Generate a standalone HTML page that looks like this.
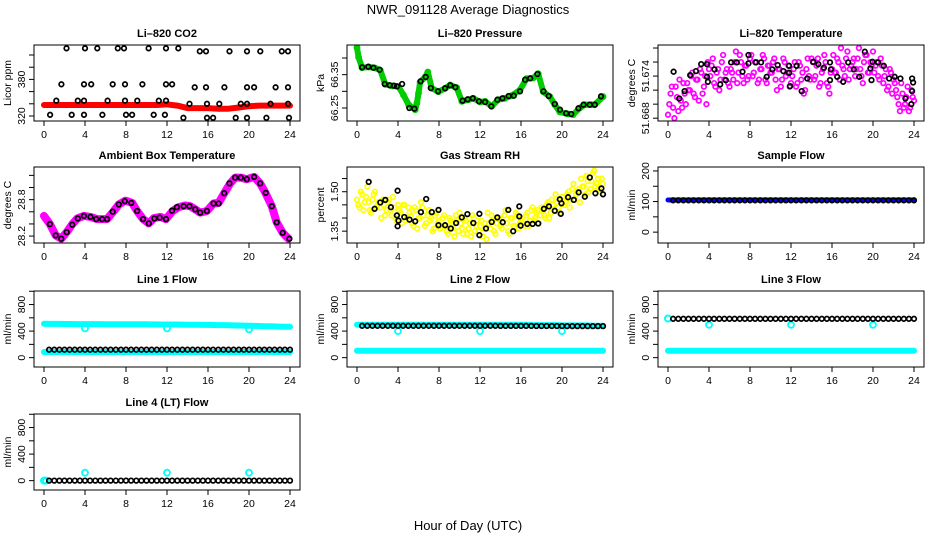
<!DOCTYPE html>
<html><head><meta charset="utf-8"><title>NWR_091128 Average Diagnostics</title>
<style>
html,body{margin:0;padding:0;background:#fff;}
svg{display:block;font-family:"Liberation Sans",Arial,sans-serif;}
</style></head>
<body>
<svg id="chart" width="936" height="540" viewBox="0 0 936 540" xmlns="http://www.w3.org/2000/svg">
<rect x="0" y="0" width="936" height="540" fill="#fff"/>
<text x="468" y="14" font-size="13" text-anchor="middle">NWR_091128  Average Diagnostics</text>
<text x="468" y="530" font-size="13" text-anchor="middle">Hour of Day (UTC)</text>
</svg>
<script>
// ---------- data ----------
const xTicks = [0,4,8,12,16,20,24];
const halfHours = [0,0.5,1,1.5,2,2.5,3,3.5,4,4.5,5,5.5,6,6.5,7,7.5,8,8.5,9,9.5,10,10.5,11,11.5,12,12.5,13,13.5,14,14.5,15,15.5,16,16.5,17,17.5,18,18.5,19,19.5,20,20.5,21,21.5,22,22.5,23,23.5,24];
const blackHours = halfHours.slice(1);
const quarterHours = Array.from({length:97},(_,i)=>i*0.25);
const eighthHours = Array.from({length:96},(_,i)=>0.125+i*0.25);

// CO2
const co2RedHours = [0,1,2,3,4,5,6,7,8,9,10,11,12,13,14,15,16,17,18,19,20,21,22,23,24];
const co2RedVals = [338,338,338,338,338,338,338,338,338,338,338,338,339,337,333,333,333,332,332,334,336,337,337,337,337];
const co2BlackHours = [2.2,4.0,5.2,7.2,7.8,10.2,11.9,13.1,15.2,15.8,18.1,19.8,21.1,23.2,23.8,
 1.7,3.9,4.6,6.7,7.9,9.6,11.9,12.5,14.7,15.8,17.6,19.8,20.5,22.6,23.8,
 1.2,3.3,3.9,6.2,7.9,9.1,11.2,11.9,14.2,15.9,17.1,19.2,19.8,22.1,23.8,
 0.6,2.7,3.9,5.7,8.0,8.6,10.7,11.8,13.6,15.9,16.5,18.7,19.8,21.7,23.9];
const co2BlackVals = [431,431,431,431,431,431,431,431,426,426,426,426,426,426,426,
 372,372,372,372,372,372,372,372,367,367,367,367,367,367,367,
 345,345,345,345,345,345,345,345,340,340,340,340,340,340,340,
 322,322,322,322,322,322,322,322,317,317,317,317,317,317,317];

// Pressure
const presGreenHours = [0,0.16,0.49,1.14,1.78,2.27,2.76,3.41,4.05,4.54,5.03,5.68,5.84,6.0,6.16,6.65,6.91,7.3,7.95,8.6,9.08,9.73,10.22,10.87,11.35,12.0,12.49,13.14,13.78,14.43,15.08,15.89,16.54,17.19,17.68,18.17,18.82,19.3,19.79,20.6,21.08,21.73,22.22,22.87,23.19,24.0];
const presGreenVals = [66.431,66.402,66.371,66.373,66.370,66.363,66.321,66.316,66.314,66.289,66.260,66.245,66.265,66.294,66.328,66.343,66.358,66.309,66.299,66.309,66.319,66.311,66.270,66.275,66.279,66.268,66.270,66.255,66.275,66.279,66.287,66.304,66.338,66.340,66.353,66.299,66.284,66.260,66.238,66.232,66.230,66.250,66.260,66.260,66.260,66.284];
const presBlackHours = [0.5,1.1,1.6,2.2,2.7,3.2,3.6,3.9,4.4,5.1,5.6,6.2,6.7,7.2,7.9,8.6,9.1,9.6,10.3,10.8,11.3,11.9,12.5,13.1,13.7,14.2,14.8,15.3,15.9,16.4,16.9,17.6,18.2,18.7,19.3,19.8,20.4,20.9,21.6,22.1,22.7,23.2,23.8];
const presBlackVals = [66.372,66.374,66.371,66.365,66.322,66.318,66.317,66.315,66.322,66.250,66.248,66.330,66.343,66.310,66.300,66.309,66.318,66.312,66.272,66.276,66.279,66.270,66.268,66.255,66.275,66.279,66.286,66.287,66.300,66.335,66.339,66.352,66.300,66.286,66.262,66.245,66.234,66.232,66.249,66.260,66.260,66.260,66.285];

// Li-820 temperature
const ltPinkA = [51.6685,51.6715,51.6695,51.6725,51.6690,51.6705,51.6730,51.6700,51.6720,
 51.6740,51.6715,51.6735,51.6705,51.6745,51.6725,51.6700,51.6750,
 51.6755,51.6730,51.6745,51.6720,51.6760,51.6735,51.6750,51.6725,
 51.6745,51.6760,51.6730,51.6770,51.6740,51.6755,51.6735,51.6765,
 51.6740,51.6760,51.6730,51.6750,51.6770,51.6735,51.6755,51.6745,
 51.6760,51.6735,51.6750,51.6725,51.6765,51.6740,51.6755,51.6730,
 51.6750,51.6725,51.6760,51.6735,51.6715,51.6750,51.6740,51.6765,
 51.6735,51.6755,51.6725,51.6745,51.6770,51.6730,51.6715,51.6750,
 51.6745,51.6765,51.6735,51.6755,51.6740,51.6775,51.6750,51.6760,
 51.6740,51.6765,51.6750,51.6730,51.6770,51.6745,51.6760,51.6775,
 51.6755,51.6740,51.6765,51.6730,51.6750,51.6725,51.6745,51.6735,
 51.6720,51.6700,51.6730,51.6695,51.6710,51.6690,51.6720,51.6705];
const ltPinkB = [51.6700,51.6725,51.6680,51.6710,51.6735,51.6695,51.6715,51.6730,
 51.6720,51.6745,51.6710,51.6735,51.6750,51.6715,51.6740,51.6760,
 51.6740,51.6765,51.6725,51.6750,51.6735,51.6770,51.6745,51.6730,
 51.6750,51.6735,51.6775,51.6745,51.6760,51.6730,51.6755,51.6740,
 51.6770,51.6745,51.6760,51.6735,51.6750,51.6765,51.6730,51.6755,
 51.6745,51.6765,51.6720,51.6750,51.6735,51.6760,51.6745,51.6725,
 51.6740,51.6760,51.6730,51.6755,51.6745,51.6720,51.6765,51.6735,
 51.6760,51.6740,51.6765,51.6730,51.6750,51.6760,51.6725,51.6745,
 51.6770,51.6745,51.6760,51.6780,51.6750,51.6765,51.6735,51.6755,
 51.6765,51.6750,51.6780,51.6740,51.6760,51.6770,51.6745,51.6755,
 51.6745,51.6760,51.6735,51.6755,51.6740,51.6720,51.6750,51.6715,
 51.6730,51.6710,51.6690,51.6715,51.6700,51.6725,51.6695,51.6710];
const ltBlackHours = [0.55,1.10,1.62,2.17,2.72,3.24,3.80,3.80,3.89,4.54,5.09,5.64,6.16,6.71,7.27,7.85,7.85,8.56,9.08,9.63,10.18,10.70,11.26,11.81,11.81,11.90,12.55,13.04,13.59,14.17,14.66,15.21,15.80,15.80,15.89,16.51,17.09,17.58,18.13,18.65,19.20,19.75,19.85,19.95,20.50,21.05,21.57,22.12,22.67,23.16,23.74,23.81,23.81,23.91];
const ltBlackVals = [51.67462,51.67081,51.67186,51.67414,51.67471,51.67571,51.67571,51.67390,51.67319,51.67495,51.67281,51.67343,51.67595,51.67595,51.67462,51.67700,51.67581,51.67595,51.67595,51.67390,51.67495,51.67557,51.67471,51.67547,51.67447,51.67257,51.67547,51.67186,51.67366,51.67604,51.67571,51.67519,51.67595,51.67343,51.67495,51.67390,51.67319,51.67595,51.67495,51.67390,51.67747,51.67509,51.67343,51.67604,51.67595,51.67547,51.67366,51.67390,51.67366,51.67081,51.67000,51.67186,51.67366,51.67309];

// Ambient box temperature
const ambHours = [0,0.58,1.14,1.69,2.21,2.76,3.24,3.89,4.54,5.19,6.16,6.81,7.3,7.95,8.6,9.08,9.67,10.22,10.7,11.35,11.9,12.55,13.14,13.78,14.27,14.76,15.24,15.89,16.54,17.03,17.58,18.17,18.65,19.2,19.79,20.5,21.08,21.57,22.22,22.7,23.29,23.84];
const ambVals = [28.532,28.398,28.211,28.157,28.264,28.398,28.489,28.532,28.516,28.479,28.479,28.613,28.720,28.784,28.746,28.613,28.479,28.409,28.495,28.516,28.479,28.613,28.677,28.704,28.693,28.639,28.586,28.613,28.736,28.746,28.907,29.068,29.164,29.164,29.137,29.175,29.068,28.923,28.693,28.425,28.254,28.157];
const ambBlackHours = [0.58,1.14,1.69,2.21,2.76,3.3,3.89,4.54,5.09,5.67,6.16,6.7,7.3,7.88,8.52,9.08,9.67,10.22,10.77,11.29,11.9,12.49,12.97,13.62,14.2,14.76,15.24,15.89,16.54,17.03,17.58,18.1,18.65,19.2,19.79,20.5,21.08,21.63,22.22,22.7,23.29,23.94];
const ambBlackVals = [28.398,28.211,28.157,28.264,28.387,28.489,28.532,28.516,28.479,28.479,28.479,28.602,28.720,28.774,28.746,28.613,28.479,28.409,28.489,28.505,28.479,28.618,28.677,28.693,28.693,28.639,28.586,28.613,28.736,28.736,28.907,29.068,29.164,29.164,29.137,29.175,29.068,28.912,28.693,28.425,28.254,28.157];

// Gas stream RH
const rhYellowA = [1.47,1.44,1.49,1.46,1.52,1.43,1.47,1.50,1.45,
 1.44,1.47,1.41,1.46,1.43,1.48,1.40,1.45,
 1.42,1.45,1.39,1.44,1.41,1.37,1.43,1.40,
 1.46,1.41,1.38,1.43,1.40,1.36,1.42,1.39,
 1.37,1.41,1.35,1.40,1.38,1.33,1.39,1.42,
 1.36,1.40,1.34,1.38,1.41,1.35,1.39,1.37,
 1.33,1.38,1.42,1.36,1.39,1.34,1.40,1.37,
 1.38,1.43,1.35,1.40,1.37,1.42,1.36,1.39,
 1.38,1.41,1.37,1.43,1.39,1.42,1.38,1.44,
 1.41,1.45,1.40,1.47,1.43,1.46,1.42,1.48,
 1.45,1.49,1.44,1.51,1.47,1.50,1.46,1.52,
 1.49,1.54,1.51,1.57,1.52,1.55,1.50,1.53];
const rhYellowB = [1.45,1.50,1.43,1.48,1.46,1.42,1.49,1.44,
 1.46,1.40,1.45,1.43,1.47,1.41,1.44,1.39,
 1.43,1.38,1.45,1.40,1.42,1.38,1.44,1.36,
 1.40,1.44,1.37,1.41,1.39,1.35,1.41,1.38,
 1.36,1.40,1.37,1.34,1.39,1.36,1.41,1.35,
 1.38,1.34,1.39,1.36,1.33,1.40,1.37,1.35,
 1.39,1.36,1.32,1.38,1.41,1.35,1.38,1.40,
 1.36,1.41,1.38,1.34,1.40,1.37,1.41,1.38,
 1.40,1.37,1.42,1.39,1.44,1.40,1.43,1.41,
 1.43,1.40,1.46,1.42,1.45,1.49,1.44,1.47,
 1.48,1.46,1.50,1.47,1.53,1.49,1.51,1.55,
 1.52,1.56,1.50,1.54,1.58,1.53,1.51,1.55];
const rhBlackHours = [1.14,1.72,2.27,2.76,3.31,3.89,3.96,4.05,3.96,4.61,5.12,5.68,6.23,6.75,7.30,7.95,7.95,8.60,9.15,9.67,10.22,10.77,11.35,11.94,11.94,12.59,13.14,13.69,14.21,14.76,15.24,15.83,15.83,15.96,16.61,17.13,17.68,18.23,18.72,19.30,19.79,19.88,19.95,20.60,21.15,21.63,22.22,22.71,23.26,23.84,24.00];
const rhBlackVals = [1.5375,1.435,1.459,1.469,1.441,1.41,1.369,1.39,1.504,1.404,1.394,1.3875,1.4225,1.4725,1.4225,1.431,1.3725,1.3725,1.36,1.381,1.4025,1.415,1.381,1.416,1.335,1.36,1.385,1.4025,1.384,1.431,1.35,1.444,1.406,1.371,1.3775,1.3775,1.379,1.435,1.444,1.4275,1.471,1.416,1.456,1.479,1.469,1.4975,1.481,1.554,1.494,1.5125,1.49];

// Sample flow
const sfBlue = [105,105,105,105,105,105,105,105,105,105,105,105,105,105,105,105,105,105,105,105,105,105,105,105,105,105,105,105,105,105,105,105,105,105,105,105,105,105,105,105,105,105,105,105,105,105,105,105,105];
const sfBlack = [104,104,104,104,104,104,104,104,104,104,104,104,104,104,104,104,104,104,104,104,104,104,104,104,104,104,104,104,104,104,104,104,104,104,104,104,104,104,104,104,104,104,104,104,104,104,104,104];

// Line flows
const dipHours = [4,12,20];
const l1CyanTop = [510,509,508,508,507,507,506,506,506,505,505,505,504,504,504,503,503,503,502,502,502,501,501,500,500,500,499,498,497,496,495,494,493,492,491,490,488,486,484,482,480,478,476,474,472,470,468,466,464];
const l1CyanBot = [85,85,85,85,85,85,85,85,85,85,85,85,85,85,85,85,85,85,85,85,85,85,85,85,85,85,85,85,85,85,85,85,85,85,85,85,85,85,85,85,85,85,85,85,85,85,85,85,85];
const l1Black = [120,120,120,120,120,120,120,120,120,120,120,120,120,120,120,120,120,120,120,120,120,120,120,120,120,120,120,120,120,120,120,120,120,120,120,120,120,120,120,120,120,120,120,120,120,120,120,120];
const l1Dips = [440,440,425];

const l2CyanTop = [495,495,495,495,495,495,495,495,495,495,495,495,495,495,495,495,495,495,495,495,495,495,495,495,495,495,495,495,495,495,495,495,495,495,490,490,490,490,490,490,485,485,485,485,485,485,480,480,480];
const l2CyanBot = [105,105,105,105,105,105,105,105,105,105,105,105,105,105,105,105,105,105,105,105,105,105,105,105,105,105,105,105,105,105,105,105,105,105,105,105,105,105,105,105,105,105,105,105,105,105,105,105,105];
const l2Black = [480,480,480,480,480,480,480,480,480,480,480,480,480,480,480,480,480,480,480,480,480,480,480,480,480,480,480,478,478,478,478,478,478,478,476,476,476,476,476,476,475,475,475,475,475,475,475,475];
const l2Dips = [400,400,400];

const l3CyanTop = [590];
const l3CyanBot = [105,105,105,105,105,105,105,105,105,105,105,105,105,105,105,105,105,105,105,105,105,105,105,105,105,105,105,105,105,105,105,105,105,105,105,105,105,105,105,105,105,105,105,105,105,105,105,105,105];
const l3Black = [585,585,585,585,585,585,585,585,585,585,585,585,585,585,585,585,585,585,585,585,585,585,585,585,585,585,585,585,585,585,585,585,585,585,585,585,585,585,585,585,585,585,585,585,585,585,585,585];
const l3Dips = [495,495,495];

const l4CyanBot = [0,0];
const l4Black = [0,0,0,0,0,0,0,0,0,0,0,0,0,0,0,0,0,0,0,0,0,0,0,0,0,0,0,0,0,0,0,0,0,0,0,0,0,0,0,0,0,0,0,0,0,0,0,0];
const l4Dips = [120,120,120];

// ---------- layout ----------
const SVGNS = "http://www.w3.org/2000/svg";
const svg = document.getElementById('chart');
const colL = [34,347,658], rowT = [45,167,291,414], PW = 266, PH = 76;

function el(tag, attrs, parent){
  const e = document.createElementNS(SVGNS, tag);
  for (const k in attrs) e.setAttribute(k, attrs[k]);
  (parent||svg).appendChild(e);
  return e;
}
function xPos(p,h){ return colL[p.col] + 10 + h*(246/24); }
function yPos(p,v){ return rowT[p.row] + PH*(p.yhi - v)/(p.yhi - p.ylo); }

function panel(p){
  const g = el('g', {});
  
  
  const L = colL[p.col], T = rowT[p.row];
  const cp = el('clipPath', {id: 'clip-' + p.name}, g);
  el('rect', {x:L, y:T, width:PW, height:PH}, cp);
  const t = el('text', {x: L + PW/2, y: T - 8, 'font-size': 11, 'font-weight': 'bold', 'text-anchor': 'middle'}, g);
  t.textContent = p.title;
  
  
  xTicks.forEach(h => {
    const x = xPos(p,h);
    const tk = el('line', {x1:x, x2:x, y1:T+PH, y2:T+PH+5, stroke:'#000', 'stroke-width':1}, g);
    
    
    const lb = el('text', {x:x, y:T+PH+17, 'font-size': 10.5, 'text-anchor':'middle'}, g);
    lb.textContent = h;
    
    
  });
  p.ticks.forEach(v => {
    const y = yPos(p,v);
    const tk = el('line', {x1:L-5, x2:L, y1:y, y2:y, stroke:'#000', 'stroke-width':1}, g);
    
    
  });
  p.labels.forEach(v => {
    const y = yPos(p,v);
    const lb = el('text', {x:0, y:0, 'font-size': 10.5, 'text-anchor':'middle', transform:'translate(' + (L-9) + ',' + y + ') rotate(-90)'}, g);
    lb.textContent = v;
    
    
  });
  const at = el('text', {x:0, y:0, 'font-size': 10.5, 'text-anchor':'middle', transform:'translate(' + (L-23) + ',' + (T+PH/2) + ') rotate(-90)'}, g);
  at.textContent = p.ylab;
  
  
  const plot = el('g', {'clip-path': 'url(#clip-' + p.name + ')'}, g);
  
  
  p.g = plot; p.outer = g;
  return p;
}
function box(p){
  const b = el('rect', {x:colL[p.col], y:rowT[p.row], width:PW, height:PH, fill:'none', stroke:'#000', 'stroke-width':1}, p.outer);
  
  
}
function band(p, xs, ys, color, w, name){
  const d = xs.map((h,i) => (i?'L':'M') + xPos(p,h).toFixed(1) + ',' + yPos(p,ys[i]).toFixed(1)).join('');
  const path = el('path', {d:d, fill:'none', stroke:color, 'stroke-width':w, 'stroke-linejoin':'round', 'stroke-linecap':'round'}, p.g);
  
  
}
function points(p, xs, ys, color, name, r, sw){
  const g = el('g', {fill:'none', stroke:color, 'stroke-width': sw||1.7}, p.g);
  
  
  ys.forEach((v,i) => {
    const c = el('circle', {cx:xPos(p,xs[i]).toFixed(1), cy:yPos(p,v).toFixed(1), r:r||2.3}, g);
    
    
  });
}

// ---------- panels ----------
const flowTicks = [0,200,400,600,800,1000], flowLabels = [0,400,800];
const pCO2 = panel({name:'co2', col:0,row:0,title:'Li\u2013820 CO2', ylab:'Licor ppm', ylo:311.8, yhi:436.4, ticks:[320,340,360,380,400,420], labels:[320,380]});
band(pCO2, co2RedHours, co2RedVals, '#ff0000', 6, 'co2-red-series');
points(pCO2, co2BlackHours, co2BlackVals, '#000', 'co2-black-series');
box(pCO2);

const pPres = panel({name:'pressure', col:1,row:0,title:'Li\u2013820 Pressure', ylab:'kPa', ylo:66.211, yhi:66.439, ticks:[66.25,66.30,66.35,66.40], labels:['66.25','66.35']});
band(pPres, presGreenHours, presGreenVals, '#00cc00', 6, 'pressure-green-band');
points(pPres, presGreenHours, presGreenVals, '#00cc00', 'pressure-green-series', 2.6, 1.6);
points(pPres, presBlackHours, presBlackVals, '#000', 'pressure-black-series');
box(pPres);

const pLT = panel({name:'li820-temp', col:2,row:0,title:'Li\u2013820 Temperature', ylab:'degrees C', ylo:51.6676, yhi:51.67843, ticks:[51.668,51.670,51.672,51.674,51.676,51.678], labels:['51.668','51.674']});
points(pLT, quarterHours, ltPinkA, '#ff00ff', 'li820-temp-magenta-series-a');
points(pLT, eighthHours, ltPinkB, '#ff00ff', 'li820-temp-magenta-series-b');
points(pLT, ltBlackHours, ltBlackVals, '#000', 'li820-temp-black-series');
box(pLT);

const pAmb = panel({name:'ambient-temp', col:0,row:1,title:'Ambient Box Temperature', ylab:'degrees C', ylo:28.086, yhi:29.338, ticks:[28.2,28.4,28.6,28.8,29.0,29.2], labels:['28.2','28.8']});
band(pAmb, ambHours, ambVals, '#ff00ff', 8, 'ambient-magenta-band');
points(pAmb, ambBlackHours, ambBlackVals, '#000', 'ambient-black-series');
box(pAmb);

const pRH = panel({name:'rh', col:1,row:1,title:'Gas Stream RH', ylab:'percent', ylo:1.305, yhi:1.594, ticks:[1.35,1.40,1.45,1.50,1.55], labels:['1.35','1.50']});
points(pRH, quarterHours, rhYellowA, '#ffff00', 'rh-yellow-series-a');
points(pRH, eighthHours, rhYellowB, '#ffff00', 'rh-yellow-series-b');
points(pRH, rhBlackHours, rhBlackVals, '#000', 'rh-black-series');
box(pRH);

const pSF = panel({name:'sample-flow', col:2,row:1,title:'Sample Flow', ylab:'ml/min', ylo:-35.5, yhi:212.9, ticks:[0,50,100,150,200], labels:[0,100,200]});
band(pSF, halfHours, sfBlue, '#0000ff', 5, 'sample-flow-blue-band');
points(pSF, blackHours, sfBlack, '#000', 'sample-flow-black-series');
box(pSF);

const pL1 = panel({name:'line1-flow', col:0,row:2,title:'Line 1 Flow', ylab:'ml/min', ylo:-141, yhi:1004, ticks:flowTicks, labels:flowLabels});
band(pL1, halfHours, l1CyanTop, '#00ffff', 6, 'line1-cyan-upper-band');
band(pL1, halfHours, l1CyanBot, '#00ffff', 6, 'line1-cyan-lower-band');
points(pL1, dipHours, l1Dips, '#00ffff', 'line1-cyan-dips', 3, 1.8);
points(pL1, blackHours, l1Black, '#000', 'line1-black-series');
box(pL1);

const pL2 = panel({name:'line2-flow', col:1,row:2,title:'Line 2 Flow', ylab:'ml/min', ylo:-141, yhi:1004, ticks:flowTicks, labels:flowLabels});
band(pL2, halfHours, l2CyanTop, '#00ffff', 6, 'line2-cyan-upper-band');
band(pL2, halfHours, l2CyanBot, '#00ffff', 6, 'line2-cyan-lower-band');
points(pL2, dipHours, l2Dips, '#00ffff', 'line2-cyan-dips', 3, 1.8);
points(pL2, blackHours, l2Black, '#000', 'line2-black-series');
box(pL2);

const pL3 = panel({name:'line3-flow', col:2,row:2,title:'Line 3 Flow', ylab:'ml/min', ylo:-141, yhi:1004, ticks:flowTicks, labels:flowLabels});
band(pL3, halfHours, l3CyanBot, '#00ffff', 6, 'line3-cyan-lower-band');
points(pL3, [0], l3CyanTop, '#00ffff', 'line3-cyan-upper', 3, 2);
points(pL3, dipHours, l3Dips, '#00ffff', 'line3-cyan-dips', 3, 1.8);
points(pL3, blackHours, l3Black, '#000', 'line3-black-series');
box(pL3);

const pL4 = panel({name:'line4-flow', col:0,row:3,title:'Line 4 (LT) Flow', ylab:'ml/min', ylo:-141, yhi:1004, ticks:flowTicks, labels:flowLabels});
points(pL4, [0,0.2], l4CyanBot, '#00ffff', 'line4-cyan-series', 3, 2);
points(pL4, dipHours, l4Dips, '#00ffff', 'line4-cyan-spikes', 3, 1.8);
points(pL4, blackHours, l4Black, '#000', 'line4-black-series');
box(pL4);
</script>
</body></html>
